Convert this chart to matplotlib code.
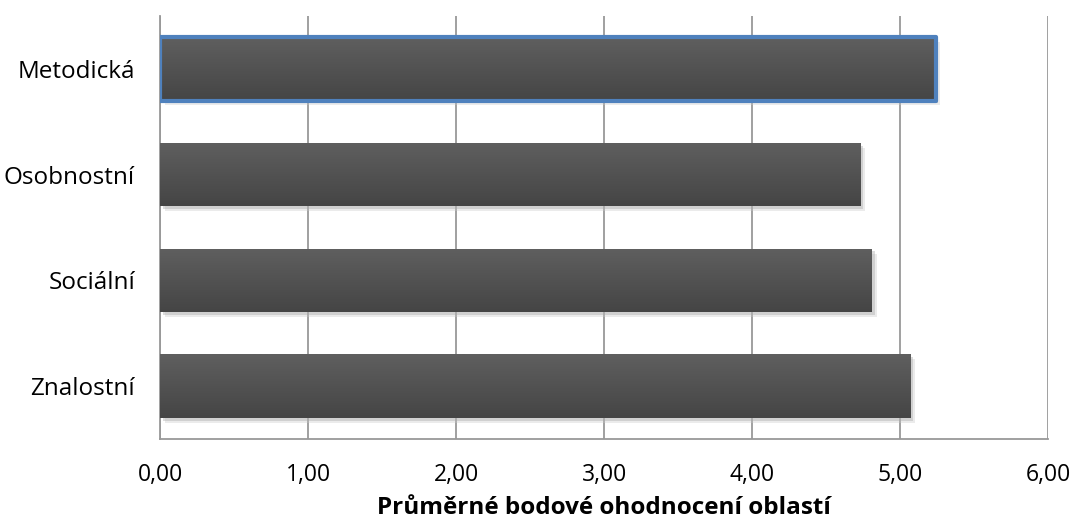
import numpy as np
import matplotlib.pyplot as plt
import matplotlib.patheffects as pe
from matplotlib.colors import LinearSegmentedColormap

# Průměrné bodové ohodnocení jednotlivých oblastí
oblasti = ['Znalostní', 'Sociální', 'Osobnostní', 'Metodická']
hodnoty = [5.07, 4.81, 4.73, 5.24]
zvyraznena = 'Metodická'
xticks = [0, 1, 2, 3, 4, 5, 6]

plt.rcParams['font.family'] = ['Open Sans', 'DejaVu Sans']

fig = plt.figure(figsize=(10.72, 5.24), dpi=100)
ax = fig.add_axes([0.1493, 0.1622, 0.8284, 0.8073])

y = np.arange(len(oblasti))
h = 0.6
# měkký stín pod sloupci
stin = [pe.SimplePatchShadow(offset=(3.5, -3.5), shadow_rgbFace='#c8c8c8', alpha=0.35),
        pe.SimplePatchShadow(offset=(2, -2), shadow_rgbFace='#a8a8a8', alpha=0.4),
        pe.Normal()]
bars = ax.barh(y, hodnoty, height=h, color='#535353', zorder=2, path_effects=stin)

# svislý přechod barvy uvnitř sloupců
cmap = LinearSegmentedColormap.from_list('g', ['#454545', '#5f5f5f'])
grad = np.linspace(0, 1, 64).reshape(-1, 1)
for b, v, yy in zip(bars, hodnoty, y):
    im = ax.imshow(grad, cmap=cmap, extent=(0, v, yy + h / 2, yy - h / 2),
                   aspect='auto', zorder=3)
    im.set_clip_path(b)

# zvýrazněná oblast s modrým okrajem
i = oblasti.index(zvyraznena)
ax.barh(y[i], hodnoty[i], height=h, fill=False, edgecolor='#4f81bd', linewidth=3.0, zorder=4,
        joinstyle='round')

ax.set_xlim(0, 6)
ax.set_ylim(-0.5, 3.5)
ax.set_xticks(xticks)
ax.set_xticklabels(['{:.2f}'.format(t).replace('.', ',') for t in xticks], fontsize=16.5)
ax.set_yticks(y)
ax.set_yticklabels(oblasti, fontsize=17.5)
ax.tick_params(axis='x', length=0, pad=17)
ax.tick_params(axis='y', length=0, pad=18)
ax.xaxis.grid(True, color='#999999', linewidth=1.3, zorder=1)
ax.set_axisbelow(True)

for s in ['top', 'right']:
    ax.spines[s].set_visible(False)
for s in ['left', 'bottom']:
    ax.spines[s].set_color('#999999')
    ax.spines[s].set_linewidth(1.3)

ax.set_xlabel('Průměrné bodové ohodnocení oblastí', fontsize=17.5, fontweight='bold', labelpad=7)

fig.savefig('out.png', dpi=100)
